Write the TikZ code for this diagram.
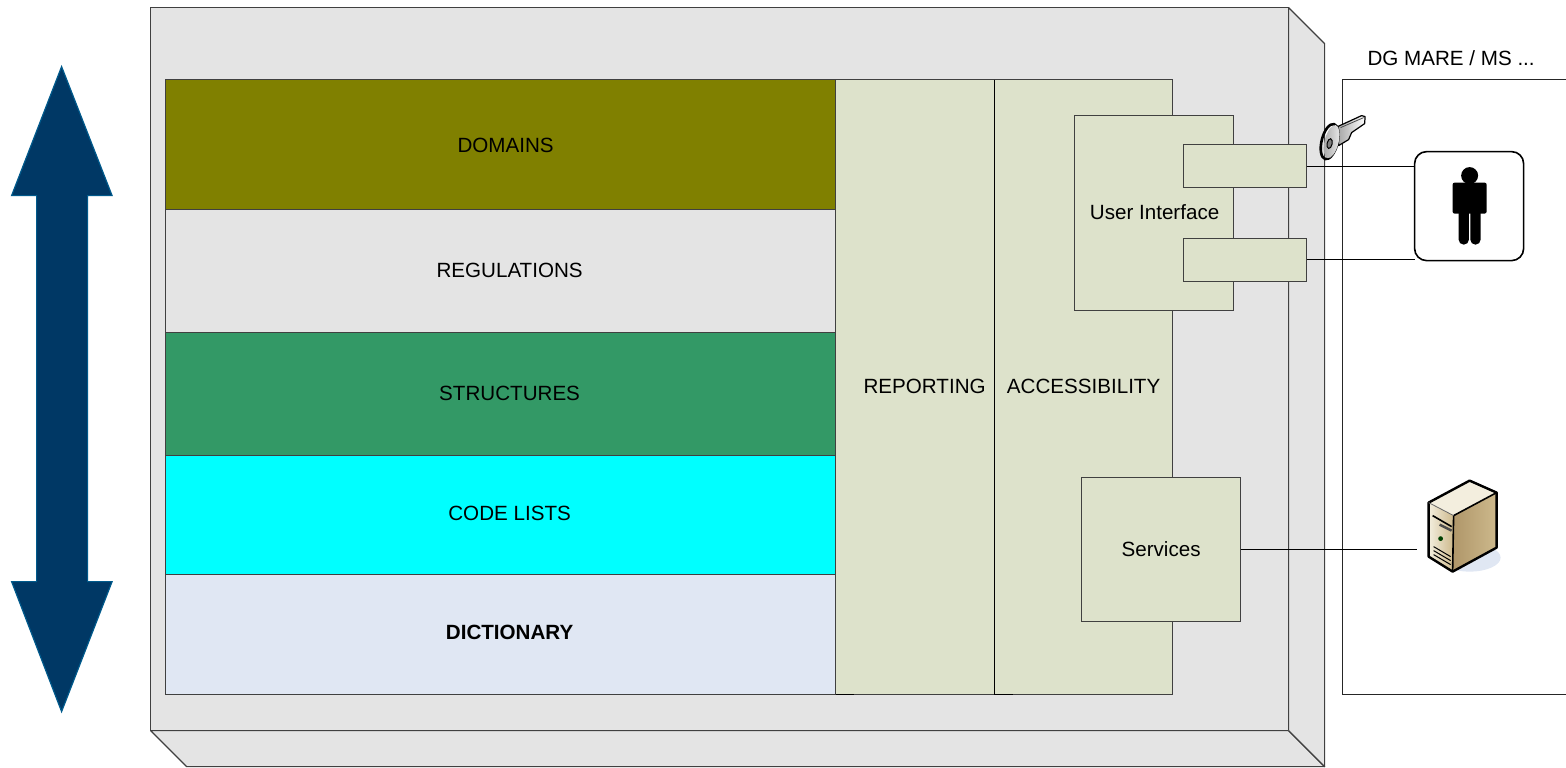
\documentclass[tikz,border=0pt]{standalone}
\usepackage{fontspec}
\setmainfont{Liberation Sans}
\definecolor{box_gray}{RGB}{228, 228, 228}
\definecolor{box_sage}{RGB}{221, 226, 203}
\definecolor{layer_olive}{RGB}{128, 128, 0}
\definecolor{layer_green}{RGB}{51, 153, 102}
\definecolor{layer_cyan}{RGB}{0, 255, 255}
\definecolor{layer_blue}{RGB}{224, 231, 243}
\definecolor{arrow_fill}{RGB}{0, 56, 101}
\definecolor{arrow_edge}{RGB}{0, 90, 140}
\definecolor{server_cream}{RGB}{243, 238, 222}
\definecolor{server_tan}{RGB}{205, 185, 140}
\definecolor{server_dark}{RGB}{175, 150, 105}
\tikzstyle{layer}=[rectangle,draw=black!75,line width=0.55pt,inner sep=0pt,outer sep=0pt,
  minimum width=335pt]
\tikzstyle{sage}=[rectangle,fill=box_sage,draw=black!75,line width=0.55pt,inner sep=0pt,
  outer sep=0pt]
\tikzstyle{port}=[sage,minimum width=61.5pt,minimum height=21.5pt]
\tikzstyle{wire}=[black,line width=0.5pt]
\tikzstyle{shell}=[fill=box_gray,draw=black!75,line width=0.55pt,line join=round]
\begin{document}
\begin{tikzpicture}[x=0.5pt,y=-0.5pt,font=\fontsize{10.3}{12}\selectfont]
    \useasboundingbox (0.4,0.4) rectangle (1566.4,767.4);
    % double arrow
    \draw [fill=arrow_fill,draw=arrow_edge,line width=0.6pt] (62,67) -- (112.5,196) -- (88,196)
      -- (88,582) -- (112.5,582) -- (62,712) -- (12,582) -- (37,582) -- (37,196) -- (12,196) -- cycle;
    % outer block
    \draw [shell] (151,731) -- (187,767) -- (1325,767) -- (1289,731) -- cycle;
    \draw [shell] (1289,8) -- (1325,44) -- (1325,767) -- (1289,731) -- cycle;
    \node [shell,rectangle,inner sep=0pt,outer sep=0pt,minimum width=569pt,minimum height=361.5pt] (front) at (720,369.5) {};
    % layers
    \node [style=layer,fill=layer_olive,minimum height=65pt] (domains) at (501,145) {};
    \node [style=layer,fill=box_gray,minimum height=61.5pt] (regulations) at (501,271.5) {};
    \node [style=layer,fill=layer_green,minimum height=61.5pt] (structures) at (501,394.5) {};
    \node [style=layer,fill=layer_cyan,minimum height=59.5pt] (codelists) at (501,515.5) {};
    \node [style=layer,fill=layer_blue,minimum height=60pt] (dictionary) at (501,635) {};
    \node (domainstext) at (506,145.5) {DOMAINS};
    \node (regulationstext) at (510,270.5) {REGULATIONS};
    \node (structurestext) at (510,393.5) {STRUCTURES};
    \node (codeliststext) at (510,513.5) {CODE LISTS};
    \node (dictionarytext) at (510,632.5) {\textbf{DICTIONARY}};
    % columns
    \node [style=sage,minimum width=79.5pt,minimum height=307.5pt] (reporting) at (915.5,387.5) {};
    \node [style=sage,minimum width=89pt,minimum height=307.5pt] (accessibility) at (1084,387.5) {};
    \node (reportingtext) at (925,386.5) {REPORTING};
    \node (accessibilitytext) at (1084,386.5) {ACCESSIBILITY};
    \draw [black,line width=0.5pt] (reporting.south west) -- ++(18,0);
    \draw [black,line width=0.5pt] (reporting.south east) -- ++(18,0);
    \draw [black,line width=0.5pt] (reporting.north east) -- (reporting.south east);
    % user interface and services
    \node [style=sage,minimum width=79.5pt,minimum height=97.5pt] (ui) at (1154.5,213.5) {};
    \node (uitext) at (1155,212.5) {User Interface};
    \node [style=port] (portone) at (1245.5,166.5) {};
    \node [style=port] (porttwo) at (1245.5,260.5) {};
    \node [style=sage,minimum width=79.5pt,minimum height=72pt] (services) at (1161.5,550) {Services};
    % partner side
    \coordinate (dgtopright) at (1566.4,80);
    \coordinate (dgtopleft) at (1343,80);
    \coordinate (dgbottomleft) at (1343,695);
    \coordinate (dgbottomright) at (1566.4,695);
    \draw [black!85,line width=0.5pt] (dgtopright) -- (dgtopleft) -- (dgbottomleft) -- (dgbottomright);
    \node (dgtext) at (1451.5,58.5) {DG MARE / MS ...};
    % person
    \node [rectangle,rounded corners=6pt,fill=white,draw=black,line width=0.8pt,inner sep=0pt,
      outer sep=0pt,minimum width=54.5pt,minimum height=54.5pt] (person) at (1469.5,206.5) {};
    \fill [black,rounded corners=1pt] (1453,183) rectangle (1487,214);
    \fill [black,rounded corners=2.5pt] (1459,205) rectangle (1469.3,245);
    \fill [black,rounded corners=2.5pt] (1470.7,205) rectangle (1481,245);
    \fill [black] (1470,176) circle [radius=8.5];
    \coordinate (personlow) at (1415,260);
    \draw [style=wire] (portone.east |- 0,167) -- (person.west |- 0,167);
    \draw [style=wire] (porttwo.east |- personlow) -- (personlow);
    % server
    \coordinate (serverwire) at (1417,550);
    \draw [style=wire] (services.east) -- (serverwire);
    \fill [layer_blue] (1470,558) ellipse [x radius=31, y radius=14];
    \shade [left color=server_cream,right color=server_tan] (1429,503) -- (1454,516) -- (1453,572) -- (1429,557) -- cycle;
    \shade [left color=server_dark,right color=server_tan] (1454,516) -- (1497,493) -- (1497,548) -- (1453,572) -- cycle;
    \fill [server_cream] (1429,503) -- (1470,481) -- (1497,493) -- (1454,516) -- cycle;
    \draw [black,line width=1.2pt,line join=round] (1429,503) -- (1470,481) -- (1497,493) -- (1497,548) -- (1453,572) -- (1429,557) -- cycle;
    \draw [black,line width=0.8pt] (1454,516) -- (1497,493);
    \draw [black!60,line width=0.4pt] (1429,503) -- (1454,516);
    \draw [black,line width=0.8pt] (1454,516) -- (1453,572);
    \draw [black,line width=0.8pt] (1433,516) -- (1452,527);
    \draw [black!70,line width=1.2pt] (1440,525) -- (1452,531);
    \draw [black,line width=0.5pt] (1434,547) -- (1451,557);
    \draw [black,line width=0.5pt] (1434,551) -- (1451,561);
    \draw [black,line width=0.5pt] (1434,555) -- (1451,565);
    \fill [black!75!green] (1441,539) circle [radius=2.4];
    % key
    \shade [left color=black!35,right color=white,draw=black,line width=0.6pt,line join=round] (1338,127) -- (1362,116)
      -- (1365.5,117) -- (1365,124) -- (1352,133) -- (1349,140) -- (1339,146) -- cycle;
    \draw [black!70,line width=0.4pt] (1341,128) -- (1364,118);
    \draw [black,line width=1.3pt,rotate around={-14:(1330,142)}] (1330,142) ellipse [x radius=8, y radius=18];
    \shade [left color=black!35,right color=black!8,rotate around={-14:(1332,142)}] (1332,142) ellipse [x radius=7, y radius=17];
    \draw [fill=black!50,draw=black,line width=0.5pt,rotate around={-12:(1330,144)}] (1330,144) ellipse [x radius=2.5, y radius=5];
\end{tikzpicture}
\end{document}
